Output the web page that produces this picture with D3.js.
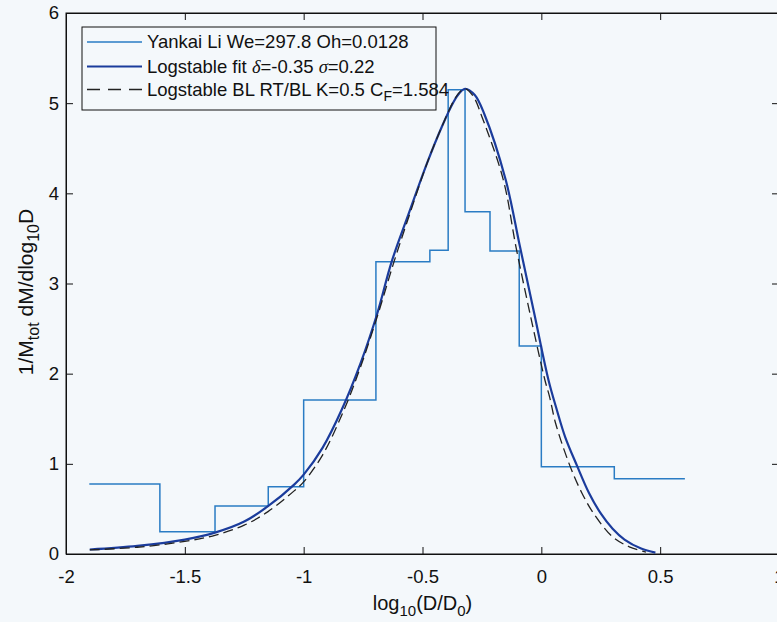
<!DOCTYPE html>
<head>
<meta charset="utf-8">
<style>

body {
  margin: 0;
  background: #f4f8fb;
}

svg {
  display: block;
  font-family: "Liberation Sans", Arial, sans-serif;
}

.axis text {
  font-size: 18.5px;
  fill: #111;
}

.axis line, .axis path {
  stroke: #111;
}

.hist {
  fill: none;
  stroke: #2a7cc4;
  stroke-width: 1.5px;
}

.fit {
  fill: none;
  stroke: #1b3c9c;
  stroke-width: 2.2px;
}

.bl {
  fill: none;
  stroke: #222;
  stroke-width: 1.3px;
  stroke-dasharray: 10,5;
}

.greek {
  font-family: "Liberation Serif", "DejaVu Serif", serif;
  font-style: italic;
}

</style>
<title>Logstable fit</title>
</head>
<body>
<script src="https://cdn.jsdelivr.net/npm/d3@7"></script>
<script>

var width = 777,
    height = 622;

// histogram (stairs) - bin edges and values
var edges = [-1.902, -1.605, -1.373, -1.149, -1.0, -0.696, -0.469, -0.392, -0.321, -0.216, -0.093, 0.0, 0.307, 0.604];
var histVals = [0.776, 0.247, 0.532, 0.746, 1.707, 3.24, 3.37, 5.15, 3.795, 3.36, 2.306, 0.968, 0.835];

// logstable fit (solid)
var fitX = [-1.90, -1.70, -1.50, -1.37, -1.25, -1.15, -1.04, -1.00, -0.92, -0.84, -0.76, -0.69, -0.63, -0.56, -0.48, -0.42, -0.37, -0.345, -0.32, -0.28, -0.24, -0.15, -0.09, -0.03, 0.03, 0.065, 0.10, 0.15, 0.20, 0.25, 0.30, 0.35, 0.42, 0.48];
var fitY = [0.05, 0.09, 0.16, 0.24, 0.36, 0.53, 0.77, 0.88, 1.18, 1.60, 2.12, 2.67, 3.24, 3.76, 4.34, 4.73, 5.01, 5.11, 5.16, 5.09, 4.88, 4.15, 3.41, 2.67, 1.93, 1.60, 1.30, 0.98, 0.68, 0.45, 0.28, 0.16, 0.06, 0.015];

// logstable BL (dashed)
var blX = [-1.90, -1.70, -1.50, -1.37, -1.25, -1.15, -1.04, -1.00, -0.92, -0.83, -0.76, -0.686, -0.62, -0.555, -0.48, -0.42, -0.37, -0.345, -0.32, -0.285, -0.25, -0.16, -0.107, -0.048, 0.015, 0.035, 0.06, 0.12, 0.17, 0.22, 0.30, 0.37, 0.44];
var blY = [0.045, 0.075, 0.14, 0.21, 0.32, 0.47, 0.70, 0.80, 1.10, 1.60, 2.08, 2.67, 3.24, 3.76, 4.34, 4.73, 5.02, 5.12, 5.16, 5.07, 4.85, 4.15, 3.41, 2.67, 1.93, 1.74, 1.45, 0.98, 0.68, 0.45, 0.19, 0.08, 0.02];

var xTicks = [-2, -1.5, -1, -0.5, 0, 0.5, 1];
var yTicks = [0, 1, 2, 3, 4, 5, 6];

var pLeft = 66, pRight = 779, pTop = 13, pBottom = 554;

var x = d3.scaleLinear().domain([-2, 1]).range([pLeft, pRight]);
var y = d3.scaleLinear().domain([0, 6]).range([pBottom, pTop]);

var svg = d3.select("body").append("svg")
    .attr("width", width)
    .attr("height", height);

// axes, ticks inward on all four sides
svg.append("g").attr("class", "axis")
    .attr("transform", "translate(0," + pBottom + ")")
    .call(d3.axisBottom(x).tickValues(xTicks).tickSize(-7).tickSizeOuter(0).tickPadding(16).tickFormat(function(d) { return String(d); }));

svg.append("g").attr("class", "axis")
    .attr("transform", "translate(0," + pTop + ")")
    .call(d3.axisTop(x).tickValues(xTicks).tickSize(-7).tickSizeOuter(0).tickFormat(""));

svg.append("g").attr("class", "axis")
    .attr("transform", "translate(" + pLeft + ",0)")
    .call(d3.axisLeft(y).tickValues(yTicks).tickSize(-7).tickSizeOuter(0).tickPadding(7).tickFormat(function(d) { return String(d); }));

svg.append("g").attr("class", "axis")
    .attr("transform", "translate(" + pRight + ",0)")
    .call(d3.axisRight(y).tickValues(yTicks).tickSize(-7).tickSizeOuter(0).tickFormat(""));

svg.selectAll(".axis").attr("font-size", null).attr("font-family", null);

svg.append("rect")
    .attr("x", pLeft).attr("y", pTop)
    .attr("width", pRight - pLeft).attr("height", pBottom - pTop)
    .attr("fill", "none").attr("stroke", "#111");

// stairs
var stairs = edges.map(function(e, i) { return [e, histVals[Math.min(i, histVals.length - 1)]]; });
var stepLine = d3.line()
    .x(function(d) { return x(d[0]); })
    .y(function(d) { return y(d[1]); })
    .curve(d3.curveStepAfter);

svg.append("path").datum(stairs).attr("class", "hist").attr("d", stepLine);

var smooth = d3.line()
    .x(function(d) { return x(d[0]); })
    .y(function(d) { return y(d[1]); })
    .curve(d3.curveCatmullRom.alpha(0.5));

svg.append("path").datum(d3.zip(fitX, fitY)).attr("class", "fit").attr("d", smooth);
svg.append("path").datum(d3.zip(blX, blY)).attr("class", "bl").attr("d", smooth);

// legend
var lg = svg.append("g").attr("font-size", "18.5px").attr("fill", "#111");
lg.append("rect")
    .attr("x", 82).attr("y", 27).attr("width", 354).attr("height", 83)
    .attr("fill", "#f4f8fb").attr("stroke", "#111");

var rows = [42, 66.5, 89.5];
lg.append("line").attr("class", "hist").attr("x1", 87).attr("x2", 142).attr("y1", rows[0]).attr("y2", rows[0]);
lg.append("line").attr("class", "fit").attr("x1", 87).attr("x2", 142).attr("y1", rows[1]).attr("y2", rows[1]);
lg.append("line").attr("class", "bl").attr("x1", 87).attr("x2", 142).attr("y1", rows[2]).attr("y2", rows[2])
    .style("stroke-dasharray", "13,8");

lg.append("text").attr("x", 147).attr("y", rows[0] + 6)
    .text("Yankai Li We=297.8 Oh=0.0128");

var t2 = lg.append("text").attr("x", 147).attr("y", rows[1] + 6);
t2.append("tspan").text("Logstable fit ");
t2.append("tspan").attr("class", "greek").text("\u03b4");
t2.append("tspan").text("=-0.35 ");
t2.append("tspan").attr("class", "greek").text("\u03c3");
t2.append("tspan").text("=0.22");

var t3 = lg.append("text").attr("x", 147).attr("y", rows[2] + 6);
t3.append("tspan").text("Logstable BL RT/BL K=0.5 C");
t3.append("tspan").attr("dy", 5).attr("font-size", "14px").text("F");
t3.append("tspan").attr("dy", -5).text("=1.584");

// axis titles
var xt = svg.append("text")
    .attr("x", (pLeft + pRight) / 2).attr("y", 610)
    .attr("text-anchor", "middle").attr("font-size", "20px").attr("fill", "#111");
xt.append("tspan").text("log");
xt.append("tspan").attr("dy", 6).attr("font-size", "15px").text("10");
xt.append("tspan").attr("dy", -6).text("(D/D");
xt.append("tspan").attr("dy", 6).attr("font-size", "15px").text("0");
xt.append("tspan").attr("dy", -6).text(")");

var yt = svg.append("text")
    .attr("transform", "translate(33,292)rotate(-90)")
    .attr("text-anchor", "middle").attr("font-size", "21px").attr("fill", "#111");
yt.append("tspan").text("1/M");
yt.append("tspan").attr("dy", 6).attr("font-size", "16px").text("tot");
yt.append("tspan").attr("dy", -6).text(" dM/dlog");
yt.append("tspan").attr("dy", 6).attr("font-size", "16px").text("10");
yt.append("tspan").attr("dy", -6).text("D");

</script>
</body>
